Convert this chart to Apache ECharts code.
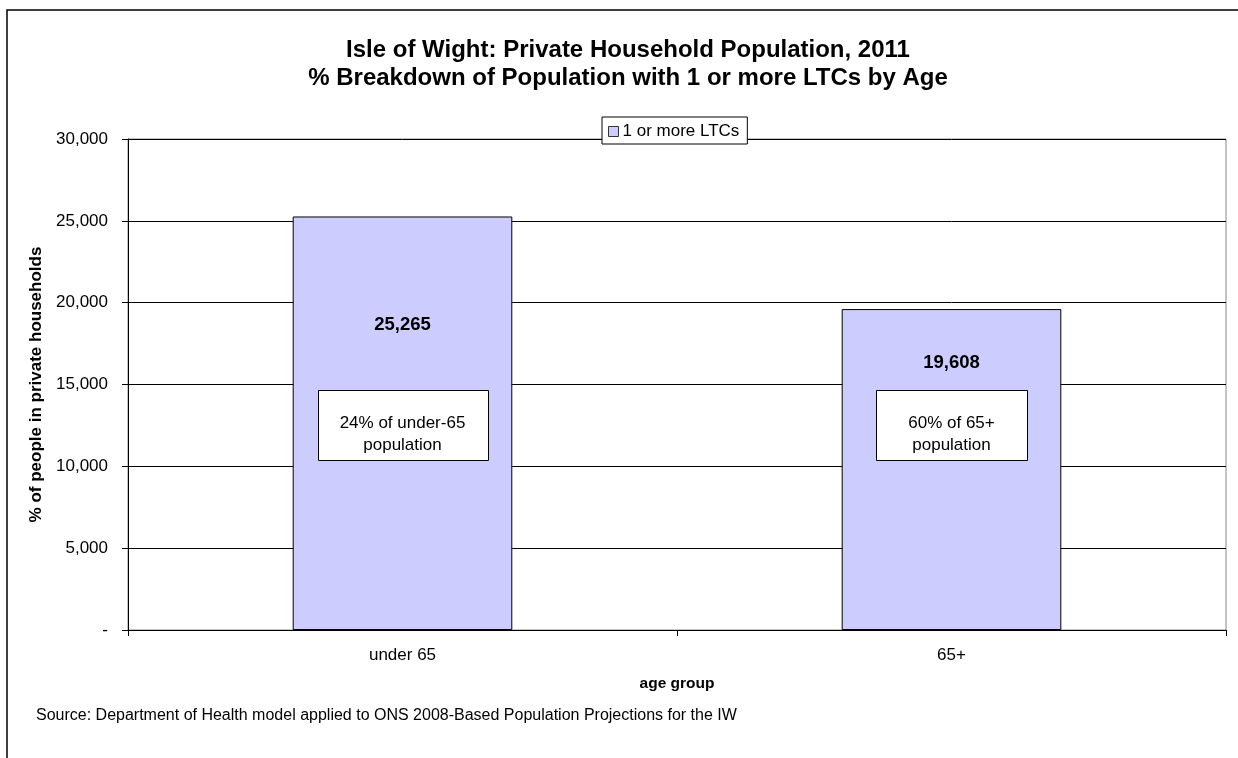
<!DOCTYPE html>
<html lang="en">
<head>
  <meta charset="utf-8">
  <title>Isle of Wight LTCs by age</title>
  <script src="https://cdn.jsdelivr.net/npm/echarts@6/dist/echarts.min.js"></script>
  <style>
    html, body { margin: 0; padding: 0; background: #fff; }
    #main { width: 1238px; height: 758px; }
  </style>
</head>
<body>
  <div id="main"></div>
  <script>
    // data
    var categories = ['under 65', '65+'];
    var ltcValues = [25265, 19608];
    var notes = ['24% of under-65\npopulation', '60% of 65+\npopulation'];
    var yTicks = { min: 0, max: 30000, interval: 5000 };

    var font = 'Liberation Sans, Arial, sans-serif';

    function fmt(v) {
      if (v === 0) return '-';
      return v.toString().replace(/\B(?=(\d{3})+(?!\d))/g, ',');
    }

    var myChart = echarts.init(document.getElementById('main'));

    var option = {
      animation: false,
      textStyle: { fontFamily: font },
      title: {
        text: 'Isle of Wight: Private Household Population, 2011\n% Breakdown of Population with 1 or more LTCs by Age',
        left: 623,
        top: 31,
        textAlign: 'center',
        textStyle: { fontSize: 24, fontWeight: 'bold', color: '#000', lineHeight: 28, fontFamily: font }
      },
      legend: {
        data: ['1 or more LTCs'],
        left: 602,
        top: 117,
        padding: [6, 8, 4, 6],
        itemWidth: 10,
        itemHeight: 10,
        itemGap: 3,
        backgroundColor: '#fff',
        borderColor: '#000',
        borderWidth: 1,
        borderRadius: 0,
        icon: 'rect',
        itemStyle: { borderColor: '#333', borderWidth: 1 },
        textStyle: { fontSize: 17, color: '#000', fontFamily: font, padding: [0, 0, 0, -1] }
      },
      grid: {
        left: 128,
        right: 12,
        top: 139,
        bottom: 128,
        show: true,
        borderColor: '#888',
        borderWidth: 1
      },
      xAxis: {
        type: 'category',
        data: categories,
        name: 'age group',
        nameLocation: 'middle',
        nameGap: 46,
        nameTextStyle: { fontSize: 15.5, fontWeight: 'bold', color: '#000', fontFamily: font },
        axisLine: { lineStyle: { color: '#000', width: 1 } },
        axisTick: { show: true, length: 6, lineStyle: { color: '#000' } },
        axisLabel: { fontSize: 17, color: '#000', margin: 17, fontFamily: font }
      },
      yAxis: {
        type: 'value',
        min: yTicks.min,
        max: yTicks.max,
        interval: yTicks.interval,
        name: '% of people in private households',
        nameLocation: 'middle',
        nameGap: 80,
        nameTextStyle: { fontSize: 17, fontWeight: 'bold', color: '#000', fontFamily: font },
        axisLine: { show: true, lineStyle: { color: '#000', width: 1 } },
        axisTick: { show: true, length: 6, lineStyle: { color: '#000' } },
        splitLine: { show: true, lineStyle: { color: '#000', width: 1 } },
        axisLabel: { fontSize: 17, color: '#000', margin: 20, formatter: fmt, fontFamily: font }
      },
      series: [{
        name: '1 or more LTCs',
        type: 'bar',
        barWidth: '40%',
        itemStyle: { color: '#CCCCFF', borderColor: '#000', borderWidth: 1 },
        label: {
          show: true,
          position: 'insideTop',
          fontSize: 18.5,
          fontWeight: 'bold',
          color: '#000',
          fontFamily: font,
          formatter: function (p) { return fmt(p.value); }
        },
        data: ltcValues.map(function (v, i) {
          return { value: v, label: { offset: [0, i === 0 ? 94 : 39] } };
        })
      }]
    };

    myChart.setOption(option);

    // outer frame, source line and the note boxes centred on each bar
    var graphics = [{
      type: 'rect',
      silent: true,
      shape: { x: 7, y: 10, width: 1300, height: 800 },
      style: { fill: null, stroke: '#000', lineWidth: 1.5 },
      z: 100
    }, {
      type: 'text',
      left: 36,
      top: 708,
      style: {
        text: 'Source: Department of Health model applied to ONS 2008-Based Population Projections for the IW',
        fontSize: 16, fill: '#000', fontFamily: font
      }
    }];
    categories.forEach(function (c, i) {
      var cx = myChart.convertToPixel({ xAxisIndex: 0 }, c);
      var w = i === 0 ? 170 : 151;
      graphics.push({
        type: 'rect',
        shape: { x: Math.round(cx - w / 2) + 0.5, y: 390.5, width: w, height: 70 },
        style: { fill: '#fff', stroke: '#000', lineWidth: 1 },
        z: 10
      });
      graphics.push({
        type: 'text',
        x: cx,
        y: 434,
        style: {
          text: notes[i], fontSize: 17, fill: '#000', fontFamily: font,
          align: 'center', verticalAlign: 'middle', lineHeight: 22
        },
        z: 11
      });
    });
    myChart.setOption({ graphic: graphics });
  </script>
</body>
</html>
